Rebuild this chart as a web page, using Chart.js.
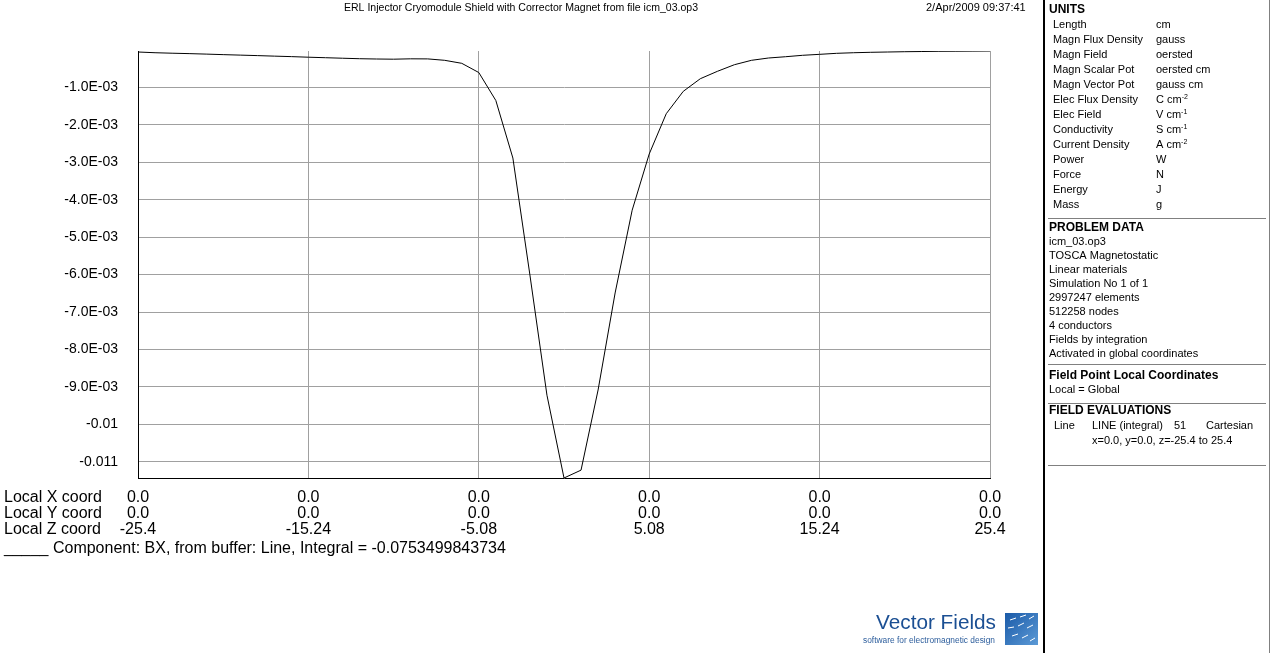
<!DOCTYPE html>
<html>
<head>
<meta charset="utf-8">
<script src="https://cdn.jsdelivr.net/npm/chart.js@4.4.1/dist/chart.umd.min.js"></script>
<style>
  html, body { margin: 0; padding: 0; background: #fff; }
  #wrap { width: 1272px; height: 653px; }
</style>
</head>
<body>
<div id="wrap"><canvas id="fieldChart" width="1272" height="653"></canvas></div>
<script>
// posisi z (cm) sepanjang garis, 51 titik
const zPositions = [
  -25.4, -24.384, -23.368, -22.352, -21.336, -20.32, -19.304, -18.288, -17.272, -16.256,
  -15.24, -14.224, -13.208, -12.192, -11.176, -10.16, -9.144, -8.128, -7.112, -6.096,
  -5.08, -4.064, -3.048, -2.032, -1.016, 0, 1.016, 2.032, 3.048, 4.064,
  5.08, 6.096, 7.112, 8.128, 9.144, 10.16, 11.176, 12.192, 13.208, 14.224,
  15.24, 16.256, 17.272, 18.288, 19.304, 20.32, 21.336, 22.352, 23.368, 24.384, 25.4
];

// komponen BX (gauss)
const bxValues = [
  -0.000056, -0.000075, -0.000088, -0.000099, -0.000112, -0.000126, -0.000139, -0.000152, -0.000166, -0.000179,
  -0.000195, -0.000208, -0.000222, -0.000235, -0.000243, -0.000248, -0.000238, -0.000240, -0.000278, -0.000358,
  -0.000604, -0.001351, -0.002887, -0.006010, -0.009220, -0.011430, -0.011220, -0.009080, -0.006490, -0.004280,
  -0.002780, -0.001704, -0.001106, -0.000769, -0.000572, -0.000395, -0.000278, -0.000216, -0.000182, -0.000144,
  -0.000118, -0.000091, -0.000075, -0.000064, -0.000056, -0.000048, -0.000043, -0.000037, -0.000035, -0.000032, -0.000029
];

// tick sumbu
const yTickValues = [-0.001, -0.002, -0.003, -0.004, -0.005, -0.006, -0.007, -0.008, -0.009, -0.01, -0.011];
const yTickLabels = ['-1.0E-03', '-2.0E-03', '-3.0E-03', '-4.0E-03', '-5.0E-03', '-6.0E-03', '-7.0E-03', '-8.0E-03', '-9.0E-03', '-0.01', '-0.011'];
const zTickValues = [-25.4, -15.24, -5.08, 5.08, 15.24, 25.4];
const xCoordLabels = ['0.0', '0.0', '0.0', '0.0', '0.0', '0.0'];
const yCoordLabels = ['0.0', '0.0', '0.0', '0.0', '0.0', '0.0'];
const zCoordLabels = ['-25.4', '-15.24', '-5.08', '5.08', '15.24', '25.4'];
const rowNames = ['Local X coord', 'Local Y coord', 'Local Z coord'];

const titleText = 'ERL Injector Cryomodule Shield with Corrector Magnet from file icm_03.op3';
const dateText = '2/Apr/2009 09:37:41';
const legendText = '_____ Component: BX, from buffer: Line, Integral = -0.0753499843734';

// panel kanan
const unitNames = ['Length', 'Magn Flux Density', 'Magn Field', 'Magn Scalar Pot', 'Magn Vector Pot', 'Elec Flux Density', 'Elec Field', 'Conductivity', 'Current Density', 'Power', 'Force', 'Energy', 'Mass'];
const unitValues = ['cm', 'gauss', 'oersted', 'oersted cm', 'gauss cm', 'C cm', 'V cm', 'S cm', 'A cm', 'W', 'N', 'J', 'g'];
const unitPowers = ['', '', '', '', '', '-2', '-1', '-1', '-2', '', '', '', ''];
const problemData = ['icm_03.op3', 'TOSCA Magnetostatic', 'Linear materials', 'Simulation No 1 of 1', '2997247 elements', '512258 nodes', '4 conductors', 'Fields by integration', 'Activated in global coordinates'];

const FONT = '"Liberation Sans", Arial, sans-serif';

const overlayPlugin = {
    id: 'overlay',
    afterDraw(chart) {
        const ctx = chart.ctx;
        ctx.save();
        ctx.fillStyle = '#000';
        ctx.textBaseline = 'middle';

        // judul + tanggal
        ctx.font = `11px ${FONT}`;
        ctx.textAlign = 'center';
        ctx.fillText(titleText, 521, 8, 354);
        ctx.textAlign = 'left';
        ctx.fillText(dateText, 926, 8, 102);

        // nama baris koordinat
        ctx.font = `16px ${FONT}`;
        const xs = chart.scales.x;
        const rowTop = xs.top + 12;
        rowNames.forEach((name, i) => ctx.fillText(name, 4, rowTop + 8 + i * 16));
        ctx.fillText(legendText, 4, 549);

        drawPanel(ctx);
        drawLogo(ctx);
        ctx.restore();
    }
};

function drawPanel(ctx) {
    ctx.fillStyle = '#000';
    ctx.fillRect(1043, 0, 2, 653);
    ctx.fillStyle = '#808080';
    ctx.fillRect(1269, 0, 1, 653);
    [218, 364, 403, 465].forEach(y => ctx.fillRect(1048, y, 218, 1));

    ctx.fillStyle = '#000';
    ctx.textAlign = 'left';
    ctx.font = `bold 12px ${FONT}`;
    ctx.fillText('UNITS', 1049, 10);
    ctx.fillText('PROBLEM DATA', 1049, 228);
    ctx.fillText('Field Point Local Coordinates', 1049, 376);
    ctx.fillText('FIELD EVALUATIONS', 1049, 411);

    ctx.font = `11px ${FONT}`;
    unitNames.forEach((name, i) => {
        const y = 25 + i * 15;
        ctx.fillText(name, 1053, y, 90);
        ctx.fillText(unitValues[i], 1156, y);
        const p = unitPowers[i];
        if (p) {
            const w = ctx.measureText(unitValues[i]).width;
            ctx.font = `7px ${FONT}`;
            ctx.fillText(p, 1156 + w, y - 3);
            ctx.font = `11px ${FONT}`;
        }
    });
    problemData.forEach((t, i) => ctx.fillText(t, 1049, 242 + i * 14));
    ctx.fillText('Local = Global', 1049, 390);
    ctx.fillText('Line', 1054, 426);
    ctx.fillText('LINE (integral)', 1092, 426);
    ctx.fillText('51', 1174, 426);
    ctx.fillText('Cartesian', 1206, 426);
    ctx.fillText('x=0.0, y=0.0, z=-25.4 to 25.4', 1092, 441);
}

function drawLogo(ctx) {
    ctx.fillStyle = '#1b4f93';
    ctx.textAlign = 'right';
    ctx.font = `21px ${FONT}`;
    ctx.fillText('Vector Fields', 996, 623, 120);
    ctx.font = `8.5px ${FONT}`;
    ctx.fillStyle = '#2c5d9c';
    ctx.fillText('software for electromagnetic design', 995, 641, 132);

    const g = ctx.createLinearGradient(1005, 613, 1038, 645);
    g.addColorStop(0, '#1a5aa8');
    g.addColorStop(1, '#5c9ad6');
    ctx.fillStyle = g;
    ctx.fillRect(1005, 613, 33, 32);
    ctx.strokeStyle = '#ffffff';
    ctx.lineWidth = 1;
    [[1010, 620, 1016, 618], [1020, 617, 1026, 615], [1029, 619, 1034, 616], [1008, 628, 1014, 627],
     [1018, 626, 1024, 623], [1027, 628, 1033, 625], [1012, 636, 1018, 634], [1022, 638, 1028, 635], [1030, 641, 1035, 638]]
        .forEach(s => { ctx.beginPath(); ctx.moveTo(s[0], s[1]); ctx.lineTo(s[2], s[3]); ctx.stroke(); });
}

const points = zPositions.map((z, i) => ({ x: z, y: bxValues[i] }));

new Chart(document.getElementById('fieldChart').getContext('2d'), {
    type: 'line',
    data: {
        datasets: [{
            data: points,
            borderColor: '#000',
            borderWidth: 1,
            pointRadius: 0,
            tension: 0,
            fill: false
        }]
    },
    options: {
        responsive: false,
        animation: false,
        devicePixelRatio: 1,
        layout: { padding: { top: 51, right: 282, left: 0, bottom: 0 } },
        plugins: { legend: { display: false }, tooltip: { enabled: false } },
        scales: {
            x: {
                type: 'linear',
                min: zTickValues[0],
                max: zTickValues[zTickValues.length - 1],
                afterBuildTicks: s => { s.ticks = zTickValues.map(v => ({ value: v })); },
                afterFit: s => { s.height = 175; },
                grid: { color: '#a0a0a0', lineWidth: 1, drawTicks: false },
                border: { color: '#000', width: 1 },
                ticks: {
                    autoSkip: false, maxRotation: 0, padding: 12, color: '#000',
                    font: { family: FONT, size: 16, lineHeight: 1 },
                    callback: (v, i) => [xCoordLabels[i], yCoordLabels[i], zCoordLabels[i]]
                }
            },
            y: {
                type: 'linear',
                min: Math.min(...bxValues),
                max: Math.max(...bxValues),
                afterBuildTicks: s => { s.ticks = yTickValues.map(v => ({ value: v })); },
                afterFit: s => { s.width = 138; },
                grid: { color: '#a0a0a0', lineWidth: 1, drawTicks: false },
                border: { color: '#000', width: 1 },
                ticks: {
                    padding: 20, color: '#000',
                    font: { family: FONT, size: 14 },
                    callback: (v, i) => yTickLabels[i]
                }
            }
        }
    },
    plugins: [overlayPlugin]
});
</script>
</body>
</html>
